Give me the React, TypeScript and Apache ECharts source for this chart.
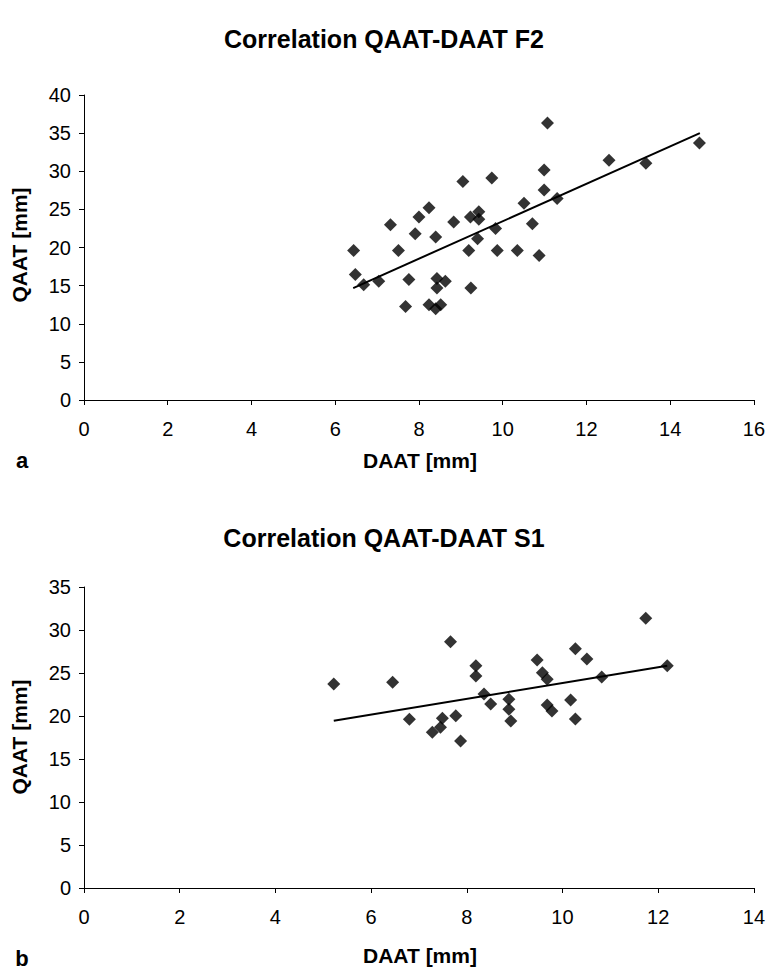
import React, { useEffect, useRef } from "react";
import * as echarts from "echarts";

// Chart a: Correlation QAAT-DAAT F2
const f2Daat = [6.44, 6.48, 6.68, 7.04, 7.32, 7.51, 7.68, 7.76, 7.91, 8.0, 8.24, 8.24, 8.4, 8.4, 8.43, 8.43, 8.52, 8.63, 8.83, 9.05, 9.19, 9.23, 9.24, 9.4, 9.43, 9.43, 9.74, 9.83, 9.87, 10.35, 10.51, 10.71, 10.87, 10.99, 10.99, 11.07, 11.3, 12.54, 13.42, 14.7];
const f2Qaat = [19.6, 16.45, 15.13, 15.57, 23.0, 19.6, 12.27, 15.79, 21.8, 24.0, 25.2, 12.5, 21.37, 11.97, 15.92, 14.68, 12.5, 15.57, 23.35, 28.67, 19.6, 24.0, 14.68, 21.14, 24.7, 23.7, 29.1, 22.5, 19.6, 19.6, 25.8, 23.12, 18.95, 30.17, 27.53, 36.32, 26.42, 31.45, 31.05, 33.7];
const f2TrendX = [6.43, 14.71];
const f2TrendY = [14.68, 35.0];

// Chart b: Correlation QAAT-DAAT S1
const s1Daat = [5.22, 6.45, 6.8, 7.28, 7.45, 7.49, 7.66, 7.77, 7.87, 8.19, 8.19, 8.36, 8.5, 8.88, 8.88, 8.92, 9.47, 9.58, 9.68, 9.68, 9.78, 10.17, 10.27, 10.27, 10.51, 10.82, 11.74, 12.19];
const s1Qaat = [23.72, 23.92, 19.62, 18.1, 18.69, 19.73, 28.64, 20.03, 17.09, 25.85, 24.65, 22.56, 21.4, 21.94, 20.78, 19.42, 26.51, 25.03, 24.27, 21.28, 20.58, 21.86, 19.65, 27.83, 26.63, 24.53, 31.36, 25.85];
const s1TrendX = [5.22, 12.19];
const s1TrendY = [19.45, 25.85];

const titles = ["Correlation QAAT-DAAT F2", "Correlation QAAT-DAAT S1"];
const xName = "DAAT [mm]";
const yName = "QAAT [mm]";
const panelLetters = ["a", "b"];

const FONT = "'Liberation Sans', Arial, sans-serif";

function zip(xs: number[], ys: number[]) {
  return xs.map((x, i) => [x, ys[i]]);
}

export default function App() {
  const ref = useRef<HTMLDivElement>(null);
  useEffect(() => {
    if (!ref.current) return;
    const chart = echarts.init(ref.current, null, { renderer: "svg" });
    const axisLine = { show: true, lineStyle: { color: "#000", width: 1 } };
    const axisTick = { show: true, length: 5, lineStyle: { color: "#000" } };
    const labelStyle = { color: "#000", fontSize: 20, fontFamily: FONT };
    const mkX = (gi: number, max: number) => ({
      type: "value",
      gridIndex: gi,
      min: 0,
      max,
      interval: 2,
      splitLine: { show: false },
      axisLine,
      axisTick,
      axisLabel: { ...labelStyle, margin: 19 },
    });
    const mkY = (gi: number, max: number) => ({
      type: "value",
      gridIndex: gi,
      min: 0,
      max,
      interval: 5,
      splitLine: { show: false },
      axisLine,
      axisTick,
      axisLabel: { ...labelStyle, margin: 13 },
    });
    const titleStyle = { fontSize: 25, fontWeight: "bold", fontFamily: FONT, color: "#000" };
    chart.setOption({
      animation: false,
      backgroundColor: "#fff",
      title: [
        { text: titles[0], left: "center", top: 21, textStyle: titleStyle },
        { text: titles[1], left: "center", top: 520, textStyle: titleStyle },
      ],
      grid: [
        { left: 84, right: 13, top: 95, height: 305 },
        { left: 84, right: 11, top: 587, height: 301 },
      ],
      xAxis: [mkX(0, 16), mkX(1, 14)],
      yAxis: [mkY(0, 40), mkY(1, 35)],
      series: [
        { type: "scatter", xAxisIndex: 0, yAxisIndex: 0, symbol: "diamond", symbolSize: 13, itemStyle: { color: "#000" }, data: zip(f2Daat, f2Qaat), z: 3 },
        { type: "line", xAxisIndex: 0, yAxisIndex: 0, symbol: "none", lineStyle: { color: "#000", width: 2 }, data: zip(f2TrendX, f2TrendY), z: 2 },
        { type: "scatter", xAxisIndex: 1, yAxisIndex: 1, symbol: "diamond", symbolSize: 13, itemStyle: { color: "#000" }, data: zip(s1Daat, s1Qaat), z: 3 },
        { type: "line", xAxisIndex: 1, yAxisIndex: 1, symbol: "none", lineStyle: { color: "#000", width: 2 }, data: zip(s1TrendX, s1TrendY), z: 2 },
      ],
      graphic: [
        { type: "text", x: 420, y: 460, style: { text: xName, font: `bold 21px ${FONT}`, fill: "#000", align: "center", verticalAlign: "middle" } },
        { type: "text", x: 420, y: 955, style: { text: xName, font: `bold 21px ${FONT}`, fill: "#000", align: "center", verticalAlign: "middle" } },
        { type: "text", x: 22, y: 460, style: { text: panelLetters[0], font: `bold 22px ${FONT}`, fill: "#000", align: "center", verticalAlign: "middle" } },
        { type: "text", x: 22, y: 958, style: { text: panelLetters[1], font: `bold 22px ${FONT}`, fill: "#000", align: "center", verticalAlign: "middle" } },
        { type: "text", x: 19, y: 245, rotation: Math.PI / 2, style: { text: yName, font: `bold 21px ${FONT}`, fill: "#000", align: "center", verticalAlign: "middle" } },
        { type: "text", x: 19, y: 737, rotation: Math.PI / 2, style: { text: yName, font: `bold 21px ${FONT}`, fill: "#000", align: "center", verticalAlign: "middle" } },
      ],
    });
    return () => chart.dispose();
  }, []);
  return <div ref={ref} style={{ position: "fixed", left: 0, top: 0, width: 768, height: 970 }} />;
}
